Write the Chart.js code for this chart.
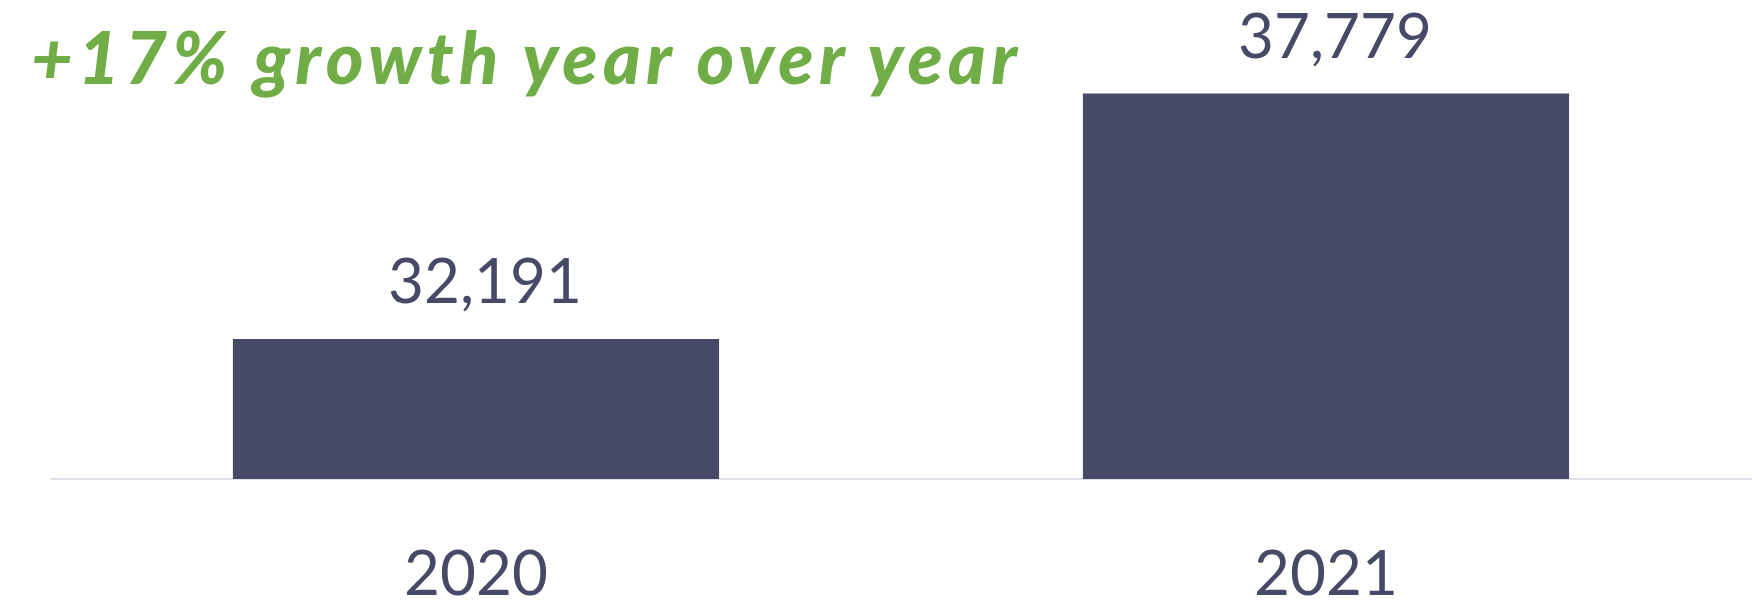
<!DOCTYPE html>
<html>
<head>
<meta charset="utf-8">
<script src="https://cdn.jsdelivr.net/npm/chart.js@4.4.1/dist/chart.umd.min.js"></script>
<style>
    html, body { margin: 0; padding: 0; background: #ffffff; }
    #wrap { position: relative; width: 1758px; height: 605px; }
    #headline {
        position: absolute;
        left: 31px;
        top: 20px;
        margin: 0;
        font-family: Lato, sans-serif;
        font-weight: 900;
        font-style: italic;
        font-size: 72px;
        line-height: 1;
        color: #70AD47;
        white-space: nowrap;
    }
</style>
</head>
<body>
<div id="wrap">
    <canvas id="growthChart"></canvas>
    <div id="headline">+17% growth year over year</div>
</div>
<script>
const years = ['2020', '2021'];
const totals = [32191, 37779];
const axisMin = 29000;
const axisMax = 39000;

const barColor = '#474A66';
const textColor = '#474A66';

// stretch the headline to the width it has in the original
function fitHeadline() {
    const el = document.getElementById('headline');
    const target = 986;
    const w = el.getBoundingClientRect().width;
    const n = el.textContent.length;
    el.style.letterSpacing = ((target - w) / (n - 1)) + 'px';
}

// value labels above each bar
const valueLabels = {
    id: 'valueLabels',
    afterDatasetsDraw(chart) {
        const ctx = chart.ctx;
        const meta = chart.getDatasetMeta(0);
        ctx.save();
        ctx.font = '62px Lato, sans-serif';
        ctx.fillStyle = textColor;
        ctx.textAlign = 'center';
        ctx.textBaseline = 'alphabetic';
        meta.data.forEach((bar, i) => {
            const v = chart.data.datasets[0].data[i];
            ctx.fillText(v.toLocaleString('en-US'), bar.x + 9, bar.y - 36);
        });
        ctx.restore();
    }
};

function drawChart() {
    const ctx = document.getElementById('growthChart').getContext('2d');
    new Chart(ctx, {
        type: 'bar',
        data: {
            labels: years,
            datasets: [{
                label: 'Total',
                data: totals,
                backgroundColor: barColor,
                borderWidth: 0,
                barPercentage: 0.572,
                categoryPercentage: 1
            }]
        },
        options: {
            responsive: true,
            maintainAspectRatio: false,
            animation: false,
            layout: { padding: { top: 40, left: 51, right: 7, bottom: 0 } },
            plugins: {
                legend: { display: false },
                tooltip: { enabled: false }
            },
            scales: {
                x: {
                    grid: { display: false, drawTicks: false },
                    border: { display: true, color: '#E1E0E8', width: 2 },
                    ticks: {
                        color: textColor,
                        font: { family: 'Lato, sans-serif', size: 62 },
                        padding: 59
                    },
                    afterFit: (axis) => { axis.height = 126; }
                },
                y: {
                    display: false,
                    min: axisMin,
                    max: axisMax
                }
            }
        },
        plugins: [valueLabels]
    });
}

document.fonts.load('62px Lato').then(() => document.fonts.load('italic 900 72px Lato')).then(() => {
    fitHeadline();
    drawChart();
});
</script>
</body>
</html>
